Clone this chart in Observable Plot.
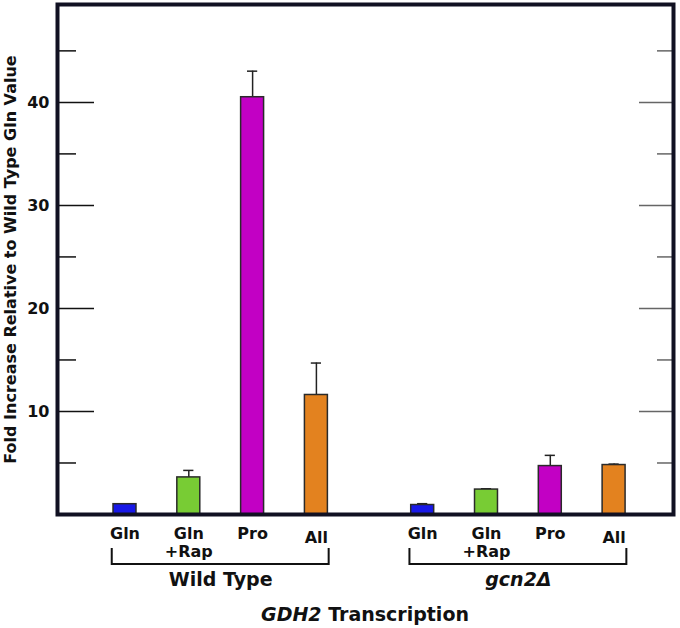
<!DOCTYPE html>
<html><head><meta charset="utf-8">
<script src="https://cdn.jsdelivr.net/npm/d3@7"></script>
<script src="https://cdn.jsdelivr.net/npm/@observablehq/plot@0.6"></script>
<style>
body{margin:0;background:#fff;}
#chart{width:680px;height:628px;}
</style></head><body><div id="chart"></div>
<script>
// ---- data ----
const groups = ["Wild Type", "gcn2Δ"];
const groupItalic = [false, true];
const conditions = ["Gln", "Gln\n+Rap", "Pro", "All"];
const wildTypeValues = [1.0, 3.6, 40.5, 11.6];
const wildTypeErrors = [0, 0.68, 2.53, 3.1];
const gcn2Values = [0.92, 2.42, 4.7, 4.8];
const gcn2Errors = [0.13, 0.08, 1.04, 0.09];
const conditionColors = ["#1818e8", "#78cc34", "#c200c4", "#e3821f"];
const majorTicks = [10, 20, 30, 40];
const minorTicks = [5, 15, 25, 35, 45];
const yLabel = "Fold Increase Relative to Wild Type Gln Value";
const titleItalic = "GDH2";
const titleRest = " Transcription";

// ---- layout ----
const groupGap = 0.666;
const W = 680, H = 628, mL = 57, mR = 7, mT = 4, mB = 114;
const plotW = W - mL - mR;
const half = 0.18, cap = 0.08, bracketPad = 0.2;
const font = "'DejaVu Sans', 'Liberation Sans', Arial, sans-serif";

const rows = [];
groups.forEach((g, gi) => {
  const vals = gi === 0 ? wildTypeValues : gcn2Values;
  const errs = gi === 0 ? wildTypeErrors : gcn2Errors;
  conditions.forEach((c, ci) => rows.push({
    group: g, condition: c, pos: gi * (conditions.length + groupGap) + ci,
    value: vals[ci], error: errs[ci]
  }));
});
const groupRows = groups.map((g, gi) => {
  const gr = rows.filter(d => d.group === g);
  return {group: g, italic: groupItalic[gi], first: gr[0].pos, last: gr[gr.length - 1].pos,
          center: (gr[0].pos + gr[gr.length - 1].pos) / 2};
});
const errRows = rows.filter(d => d.error > 0);
const lastCond = conditions[conditions.length - 1];
const condLabelOpts = {x: "pos", text: "condition", frameAnchor: "bottom", lineAnchor: "top", dy: 11, fontSize: 16, fontWeight: "bold", fill: "#111", lineHeight: 1.15};
const groupLabelOpts = {x: "center", text: "group", frameAnchor: "bottom", lineAnchor: "top", dy: 58, fontSize: 19, fontWeight: "bold", fill: "#111"};

const plot = Plot.plot({
  width: W, height: H, marginLeft: mL, marginRight: mR, marginTop: mT, marginBottom: mB,
  style: {fontFamily: font, background: "#fff", overflow: "visible"},
  x: {domain: [-1.058, 8.597], axis: null},
  y: {domain: [0, 49.5], axis: null},
  color: {domain: conditions, range: conditionColors},
  marks: [
    Plot.ruleY(majorTicks, {stroke: "#111", strokeWidth: 1.5, insetRight: plotW - 37}),
    Plot.ruleY(minorTicks, {stroke: "#111", strokeWidth: 1.5, insetRight: plotW - 19}),
    Plot.ruleY(majorTicks, {stroke: "#666", strokeWidth: 1.5, insetLeft: plotW - 34}),
    Plot.ruleY(minorTicks, {stroke: "#666", strokeWidth: 1.5, insetLeft: plotW - 16}),
    Plot.ruleX(errRows, {x: "pos", y1: "value", y2: d => d.value + d.error, stroke: "#222", strokeWidth: 1.5}),
    Plot.ruleY(errRows, {y: d => d.value + d.error, x1: d => d.pos - cap, x2: d => d.pos + cap, stroke: "#222", strokeWidth: 1.5}),
    Plot.rectY(rows, {x1: d => d.pos - half, x2: d => d.pos + half, y1: 0, y2: "value", fill: "condition", stroke: "#2a2a2a", strokeWidth: 1.5}),
    Plot.axisY(majorTicks, {anchor: "left", tickSize: 0, tickPadding: 8, fontSize: 16, fontWeight: "bold", fill: "#111", label: null}),
    Plot.text([yLabel], {frameAnchor: "left", textAnchor: "middle", rotate: -90, dx: -47, fontSize: 16, fontWeight: "bold", fill: "#111", lineAnchor: "middle"}),
    Plot.frame({stroke: "#111122", strokeWidth: 4}),
    Plot.text(rows.filter(d => d.condition !== lastCond), condLabelOpts),
    Plot.text(rows.filter(d => d.condition === lastCond), {...condLabelOpts, dy: 15}),
    Plot.text(groupRows.filter(d => !d.italic), groupLabelOpts),
    Plot.text(groupRows.filter(d => d.italic), {...groupLabelOpts, fontStyle: "italic"})
  ]
});

const svg = d3.select(plot);
const xs = plot.scale("x"), ys = plot.scale("y");
const y0 = ys.apply(0);
groupRows.forEach(g => {
  const x1 = xs.apply(g.first - bracketPad), x2 = xs.apply(g.last + bracketPad);
  svg.append("path")
    .attr("d", `M${x1},${y0 + 34}V${y0 + 50}H${x2}V${y0 + 34}`)
    .attr("fill", "none").attr("stroke", "#111").attr("stroke-width", 2);
});
const t = svg.append("text")
  .attr("x", (xs.apply(xs.domain[0]) + xs.apply(xs.domain[1])) / 2)
  .attr("y", y0 + 107)
  .attr("text-anchor", "middle")
  .attr("font-family", font).attr("font-size", 19).attr("font-weight", "bold").attr("fill", "#111");
t.append("tspan").attr("font-style", "italic").text(titleItalic);
t.append("tspan").text(titleRest);

document.getElementById("chart").appendChild(plot);
</script>
</body></html>
